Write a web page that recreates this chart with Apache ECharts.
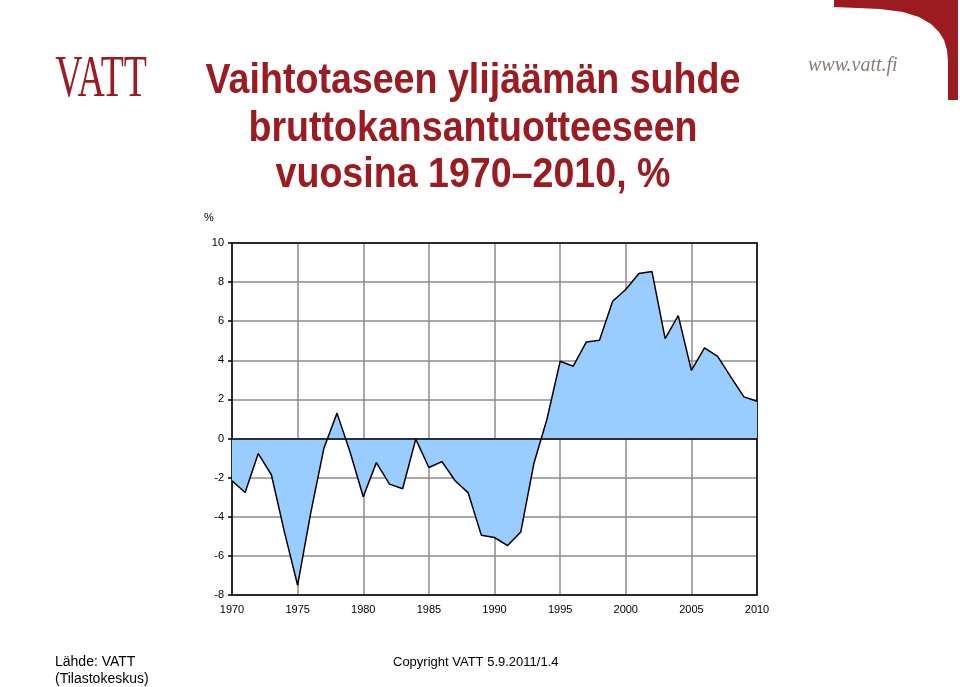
<!DOCTYPE html>
<html>
<head>
<meta charset="utf-8">
<script src="https://cdn.jsdelivr.net/npm/echarts@6/dist/echarts.min.js"></script>
<style>
html,body{margin:0;padding:0;background:#fff;}
#chart{width:960px;height:687px;}
</style>
</head>
<body>
<div id="chart"></div>
<script>
var years = ['1970','1971','1972','1973','1974','1975','1976','1977','1978','1979',
             '1980','1981','1982','1983','1984','1985','1986','1987','1988','1989',
             '1990','1991','1992','1993','1994','1995','1996','1997','1998','1999',
             '2000','2001','2002','2003','2004','2005','2006','2007','2008','2009','2010'];
var surplus = [-2.16,-2.76,-0.77,-1.85,-4.8,-7.5,-3.8,-0.5,1.3,-0.7,
               -2.98,-1.23,-2.33,-2.57,-0.03,-1.48,-1.18,-2.16,-2.78,-4.95,
               -5.06,-5.47,-4.78,-1.28,1.0,3.95,3.7,4.94,5.03,7.02,
               7.62,8.44,8.54,5.11,6.29,3.49,4.64,4.2,3.15,2.13,1.91];
var titleLines = ['Vaihtotaseen ylijäämän suhde','bruttokansantuotteeseen','vuosina 1970\u20132010, %'];
var yMin = -8, yMax = 10, yStep = 2;

var red = '#9b1b21';
var sans = '"Liberation Sans",Arial,sans-serif';
var chart = echarts.init(document.getElementById('chart'), null, {renderer:'canvas'});

var graphics = [];
var titleY = [81, 129, 175];
titleLines.forEach(function(t, i){
  graphics.push({type:'text', x:473, y:titleY[i], scaleX:0.895, scaleY:1,
    style:{text:t, fill:red, font:'bold 42px ' + sans, textAlign:'center', textVerticalAlign:'middle'}});
});
graphics.push({type:'text', x:101, y:80, scaleX:0.63, scaleY:1,
  style:{text:'VATT', fill:red, font:'60px "Liberation Serif","DejaVu Serif",serif',
  textAlign:'center', textVerticalAlign:'middle'}});
graphics.push({type:'text', x:808, y:66, style:{text:'www.vatt.fi', fill:'#8a7d76',
  font:'italic 20px "Liberation Serif","DejaVu Serif",serif', textVerticalAlign:'middle'}});
graphics.push({type:'polygon', shape:{points:[[834,0],[958,0],[958,100],[948,100],[948,62],[947,50],[944,40],[939,32],[931,24],[919,17],[903,12],[880,9],[834,7]]},
  style:{fill:red}});
graphics.push({type:'text', x:204, y:218, style:{text:'%', fill:'#000', font:'11px ' + sans, textVerticalAlign:'middle'}});
graphics.push({type:'text', x:55, y:662, style:{text:'Lähde: VATT', fill:'#000', font:'14px ' + sans, textVerticalAlign:'middle'}});
graphics.push({type:'text', x:55, y:679, style:{text:'(Tilastokeskus)', fill:'#000', font:'14px ' + sans, textVerticalAlign:'middle'}});
graphics.push({type:'text', x:393, y:662, style:{text:'Copyright VATT 5.9.2011/1.4', fill:'#000', font:'13px ' + sans, textVerticalAlign:'middle'}});

var option = {
  backgroundColor:'#fff',
  animation:false,
  grid:{left:232, right:203, top:243, bottom:92, show:false},
  xAxis:[{
    type:'category', data:years, boundaryGap:false,
    axisLine:{show:true, onZero:false, lineStyle:{color:'#000', width:1.5}},
    axisTick:{show:false},
    axisLabel:{interval:4, color:'#000', fontSize:11, fontFamily:sans, margin:9},
    splitLine:{show:true, interval:4, lineStyle:{color:'#8c8c8c', width:1.5}}
  },{
    type:'category', data:years, boundaryGap:false, position:'top',
    axisLine:{show:true, onZero:false, lineStyle:{color:'#000', width:1.5}},
    axisTick:{show:false}, axisLabel:{show:false}, splitLine:{show:false}
  }],
  yAxis:[{
    type:'value', min:yMin, max:yMax, interval:yStep,
    axisLine:{show:true, onZero:false, lineStyle:{color:'#000', width:1.5}},
    axisTick:{show:true, inside:false, length:4, lineStyle:{color:'#000', width:1.5}},
    axisLabel:{color:'#000', fontSize:11, fontFamily:sans, margin:8},
    splitLine:{show:true, lineStyle:{color:'#8c8c8c', width:1.5}}
  },{
    type:'value', min:yMin, max:yMax, interval:yStep, position:'right',
    axisLine:{show:true, onZero:false, lineStyle:{color:'#000', width:1.5}},
    axisTick:{show:false}, axisLabel:{show:false}, splitLine:{show:false}
  }],
  series:[{
    type:'line', data:surplus, symbol:'none', z:3,
    lineStyle:{color:'#000', width:1.5},
    areaStyle:{color:'#99ccff', opacity:1, origin:0},
    markLine:{silent:true, symbol:['none','none'], label:{show:false},
      lineStyle:{color:'#000', width:1.5, type:'solid'}, data:[{yAxis:0}]}
  }],
  graphic:graphics
};
chart.setOption(option);
</script>
</body>
</html>
